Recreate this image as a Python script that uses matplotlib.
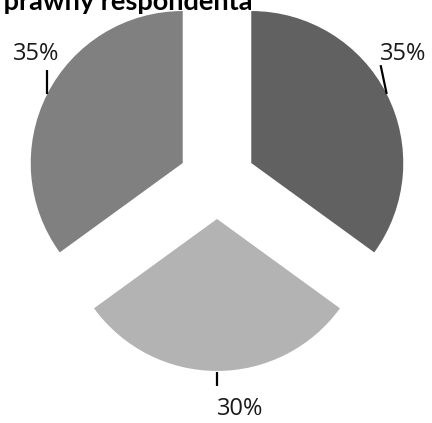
import numpy as np
import matplotlib
matplotlib.use("Agg")
import matplotlib.pyplot as plt

title = "Status prawny respondenta"
values = [35, 30, 35]
labels = ["35%", "30%", "35%"]
colors = ["#616161", "#b3b3b3", "#808080"]

W, H = 432, 423
fig = plt.figure(figsize=(W / 100, H / 100), dpi=100)
ax = fig.add_axes([0, 0, 1, 1])
ppu = 152.0
cx, cy = 217.0, 180.5

explode = 0.253
wedges, _ = ax.pie(values, colors=colors, startangle=90, counterclock=False,
                   explode=[explode] * len(values), radius=1.0,
                   wedgeprops=dict(linewidth=0), center=(0, 0), frame=True)
ax.set_xlim(-cx / ppu, (W - cx) / ppu)
ax.set_ylim(-(H - cy) / ppu, cy / ppu)
ax.set_aspect("equal")
ax.axis("off")

# leader line end offsets (relative to arc midpoint) and label positions
line_off = [(-0.04, 0.19), (0.0, -0.10), (0.0, 0.155)]
line_start = [0.0, -0.007, 0.0]
text_pos = [(1.072, 0.829, "left"), (0.151, -1.50, "center"), (-1.191, 0.829, "center")]

for w, lab, lo, ls, tp in zip(wedges, labels, line_off, line_start, text_pos):
    mid = np.deg2rad((w.theta1 + w.theta2) / 2)
    mx = (1 + explode) * np.cos(mid)
    my = (1 + explode) * np.sin(mid)
    ax.plot([mx, mx + lo[0]], [my + ls, my + lo[1]], color="black", lw=1.6,
            solid_capstyle="butt")
    ax.text(tp[0], tp[1], lab, ha=tp[2], va="center", fontsize=17,
            family="Open Sans", color="#1a1a1a")

fig.text(252 / W, 1 - 10 / H, title, ha="right", va="baseline",
         fontsize=19.5, fontweight="bold", family="Lato")

fig.savefig("out.png", dpi=100, facecolor="white")
